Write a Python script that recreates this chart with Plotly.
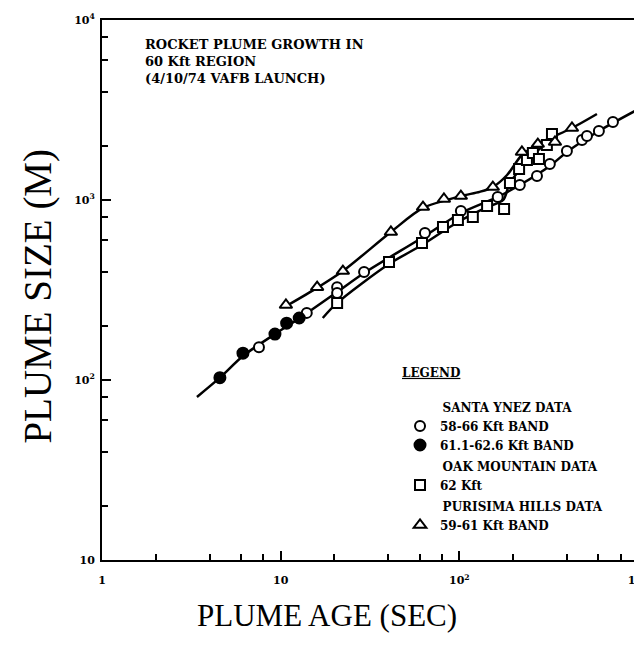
import plotly.graph_objects as go

# ---- data (plume age in sec, plume size in m) ----
# Santa Ynez data, 58-66 Kft band (open circles)
sy_open_age = [7.56, 14.0, 20.7, 20.7, 29.3, 64.2, 102, 164, 218, 272, 321, 400, 486, 518, 604, 724]
sy_open_size = [152, 236, 328, 304, 398, 656, 868, 1040, 1211, 1359, 1585, 1872, 2154, 2268, 2417, 2712]

# Santa Ynez data, 61.1-62.6 Kft band (filled circles)
sy_filled_age = [4.57, 6.15, 9.29, 10.8, 12.7]
sy_filled_size = [103, 141, 180, 207, 221]

# Oak Mountain data, 62 Kft (squares)
oak_age = [20.7, 40.4, 61.8, 81.0, 98.2, 119, 143, 178, 192, 216, 239, 258, 279, 309, 330]
oak_size = [268, 452, 577, 708, 774, 805, 926, 891, 1243, 1487, 1668, 1823, 1691, 2021, 2326]

# Purisima Hills data, 59-61 Kft band (triangles)
pur_age = [10.7, 16.0, 22.3, 41.4, 62.6, 82.0, 102, 154, 224, 275, 343, 427]
pur_size = [261, 328, 403, 664, 914, 1013, 1052, 1180, 1848, 2046, 2100, 2512]

# hand-drawn fit curves
pur_curve_age = [11.0, 16.0, 22.3, 41.4, 62.6, 102, 130, 154, 185, 224, 283, 427, 589]
pur_curve_size = [261, 325, 403, 664, 903, 1052, 1110, 1180, 1377, 1778, 2073, 2512, 3005]

sy_curve_age = [3.40, 4.57, 6.15, 9.29, 12.8, 20.7, 29.3, 64.2, 102, 164, 218, 321, 400, 604, 961]
sy_curve_size = [80.5, 103, 136, 180, 221, 308, 393, 631, 847, 1040, 1211, 1545, 1848, 2417, 3121]

oak_curve_age = [17.2, 20.7, 40.4, 61.8, 98.2, 143, 176, 192, 258, 334]
oak_curve_size = [221, 268, 441, 562, 755, 914, 1000, 1243, 1778, 2209]

# axis ticks
x_major = [1, 10, 100, 1000]
x_major_text = ["1", "10", "10<sup>2</sup>", "10<sup>3</sup>"]
x_minor = [2, 4, 6, 8, 20, 40, 60, 80, 200, 400, 600, 800]
y_major = [10, 100, 1000, 10000]
y_major_text = ["10", "10<sup>2</sup>", "10<sup>3</sup>", "10<sup>4</sup>"]
y_minor = [20, 40, 60, 80, 200, 400, 600, 800, 2000, 4000, 6000, 8000]

title_lines = ["ROCKET PLUME GROWTH IN", "60 Kft REGION", "(4/10/74 VAFB LAUNCH)"]
x_title = "PLUME AGE (SEC)"
y_title = "PLUME SIZE (M)"

SMALL = dict(family="DejaVu Serif", size=12, color="black", weight="bold")
NOTE = dict(family="DejaVu Serif", size=13, color="black", weight="bold")
BIG = "Liberation Serif"

fig = go.Figure()

line_style = dict(color="black", width=2.5, shape="spline", smoothing=0.8)
for xs, ys in [(pur_curve_age, pur_curve_size), (sy_curve_age, sy_curve_size),
               (oak_curve_age, oak_curve_size)]:
    fig.add_trace(go.Scatter(x=xs, y=ys, mode="lines", line=line_style,
                             showlegend=False, hoverinfo="skip"))

mk_line = dict(color="black", width=2)
pad = "\u00a0" * 9
fig.add_trace(go.Scatter(
    x=sy_open_age, y=sy_open_size, mode="markers", name="58-66 Kft BAND",
    legendgroup="sy", legendgrouptitle=dict(text=pad + "SANTA YNEZ DATA", font=SMALL),
    marker=dict(symbol="circle", size=10, color="white", line=mk_line)))
fig.add_trace(go.Scatter(
    x=sy_filled_age, y=sy_filled_size, mode="markers", name="61.1-62.6 Kft BAND",
    legendgroup="sy",
    marker=dict(symbol="circle", size=11, color="black", line=mk_line)))
fig.add_trace(go.Scatter(
    x=oak_age, y=oak_size, mode="markers", name="62 Kft",
    legendgroup="oak", legendgrouptitle=dict(text=pad + "OAK MOUNTAIN DATA", font=SMALL),
    marker=dict(symbol="square", size=10, color="white", line=mk_line)))
fig.add_trace(go.Scatter(
    x=pur_age, y=pur_size, mode="markers", name="59-61 Kft BAND",
    legendgroup="pur", legendgrouptitle=dict(text=pad + "PURISIMA HILLS DATA", font=SMALL),
    marker=dict(symbol="triangle-up", size=11, color="white", line=mk_line)))

axis_common = dict(
    type="log", showgrid=False, zeroline=False, automargin=False,
    showline=True, linecolor="black", linewidth=2, mirror=True,
    ticks="inside", ticklen=9, tickwidth=1.5, tickcolor="black",
    tickmode="array", tickfont=dict(family="DejaVu Serif", size=11, color="black", weight="bold"),
)

fig.update_xaxes(
    **axis_common, range=[0, 3], tickvals=x_major, ticktext=x_major_text,
    ticklabelstandoff=9,
    minor=dict(tickmode="array", tickvals=x_minor, ticks="inside", ticklen=6,
               tickwidth=1.5, tickcolor="black"),
)
fig.update_yaxes(
    **axis_common, range=[1, 4], tickvals=y_major, ticktext=y_major_text,
    ticklabelstandoff=3,
    minor=dict(tickmode="array", tickvals=y_minor, ticks="inside", ticklen=6,
               tickwidth=1.5, tickcolor="black"),
)

fig.add_annotation(
    text="<br>".join(title_lines), xref="paper", yref="paper",
    x=0.077, y=0.972, xanchor="left", yanchor="top", align="left",
    showarrow=False, font=NOTE,
)
fig.add_annotation(
    text=x_title, xref="paper", yref="paper", x=0.42, y=-0.102,
    xanchor="center", yanchor="middle", showarrow=False,
    font=dict(family=BIG, size=31, color="black"),
)
fig.add_annotation(
    text=y_title, xref="paper", yref="paper", x=-0.12, y=0.489,
    xanchor="center", yanchor="middle", textangle=-90, showarrow=False,
    font=dict(family=BIG, size=39, color="black"),
)

# the page body adds an 8px offset; margins compensate so the plot area
# lands at x 102-638, y 20-560 of the window
fig.update_layout(
    width=642, height=654,
    margin=dict(l=94, r=12, t=12, b=102),
    paper_bgcolor="white", plot_bgcolor="white",
    legend=dict(
        x=0.556, y=0.368, xanchor="left", yanchor="top",
        title=dict(text="<span style='text-decoration:underline'>LEGEND</span><br>\u00a0", font=SMALL),
        font=SMALL, bgcolor="rgba(0,0,0,0)", tracegroupgap=2, itemwidth=30,
    ),
)

fig.write_html("out.html")
